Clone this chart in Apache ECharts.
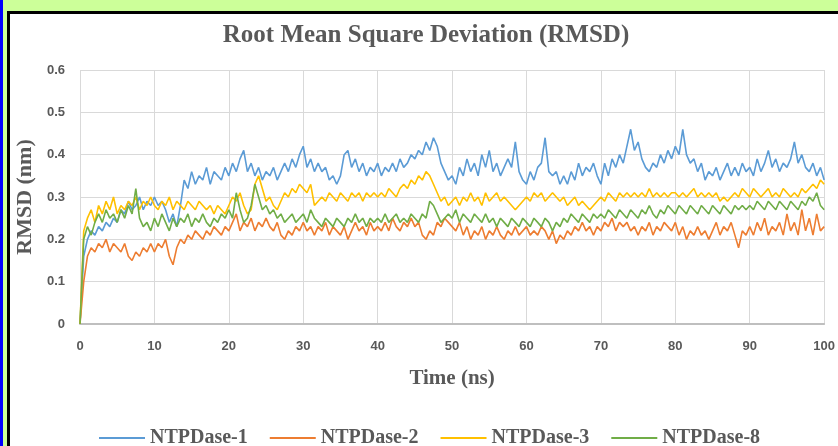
<!DOCTYPE html>
<html>
<head>
<meta charset="utf-8">
<script src="https://cdn.jsdelivr.net/npm/echarts@6/dist/echarts.min.js"></script>
<style>
  html, body { margin: 0; padding: 0; background: #fff; }
  #chart { width: 838px; height: 446px; }
</style>
</head>
<body>
<div id="chart"></div>
<script>
// RMSD (nm) sampled every 0.5 ns, 0 .. 100 ns (201 values each)
const ntpdase1 = [
  0, 0.16, 0.2, 0.22, 0.21, 0.23, 0.22, 0.24, 0.23, 0.25, 0.24, 0.27, 0.26, 0.29, 0.27, 0.28, 0.3, 0.27, 0.29, 0.28,
  0.3, 0.28, 0.29, 0.27, 0.24, 0.26, 0.23, 0.28, 0.34, 0.32, 0.36, 0.33, 0.35, 0.34, 0.37, 0.33, 0.36, 0.35, 0.34, 0.37,
  0.35, 0.38, 0.36, 0.39, 0.41, 0.36, 0.38, 0.35, 0.37, 0.34, 0.36, 0.35, 0.37, 0.34, 0.36, 0.38, 0.36, 0.39, 0.37, 0.4,
  0.42, 0.37, 0.39, 0.36, 0.38, 0.36, 0.37, 0.34, 0.35, 0.33, 0.35, 0.4, 0.41, 0.37, 0.39, 0.36, 0.38, 0.35, 0.37, 0.36,
  0.38, 0.35, 0.37, 0.36, 0.38, 0.36, 0.39, 0.37, 0.38, 0.4, 0.39, 0.41, 0.4, 0.43, 0.41, 0.44, 0.42, 0.38, 0.36, 0.34,
  0.35, 0.33, 0.37, 0.35, 0.39, 0.36, 0.38, 0.35, 0.4, 0.37, 0.41, 0.36, 0.38, 0.35, 0.37, 0.39, 0.37, 0.43, 0.36, 0.34,
  0.33, 0.36, 0.34, 0.37, 0.38, 0.44, 0.36, 0.35, 0.36, 0.33, 0.35, 0.33, 0.36, 0.34, 0.38, 0.35, 0.37, 0.36, 0.38, 0.35,
  0.33, 0.38, 0.35, 0.39, 0.37, 0.4, 0.38, 0.42, 0.46, 0.41, 0.43, 0.39, 0.37, 0.36, 0.38, 0.37, 0.4, 0.38, 0.41, 0.39,
  0.42, 0.4, 0.46, 0.4, 0.38, 0.39, 0.36, 0.38, 0.34, 0.36, 0.35, 0.37, 0.34, 0.36, 0.38, 0.35, 0.37, 0.35, 0.38, 0.36,
  0.37, 0.35, 0.39, 0.36, 0.38, 0.41, 0.37, 0.39, 0.36, 0.38, 0.37, 0.39, 0.43, 0.38, 0.4, 0.37, 0.36, 0.38, 0.35, 0.37,
  0.34
];
const ntpdase2 = [
  0, 0.1, 0.16, 0.18, 0.17, 0.19, 0.18, 0.2, 0.17, 0.19, 0.18, 0.17, 0.19, 0.16, 0.15, 0.17, 0.16, 0.18, 0.17, 0.19,
  0.17, 0.19, 0.18, 0.2, 0.16, 0.14, 0.18, 0.2, 0.19, 0.21, 0.2, 0.22, 0.21, 0.2, 0.22, 0.21, 0.23, 0.22, 0.21, 0.23,
  0.22, 0.24, 0.26, 0.22, 0.24, 0.23, 0.25, 0.22, 0.24, 0.23, 0.25, 0.23, 0.22, 0.24, 0.21, 0.2, 0.22, 0.21, 0.23, 0.22,
  0.24, 0.22, 0.23, 0.21, 0.23, 0.22, 0.24, 0.21, 0.23, 0.22, 0.21, 0.23, 0.2, 0.22, 0.24, 0.22, 0.23, 0.21, 0.24, 0.22,
  0.23, 0.22, 0.24, 0.22, 0.25, 0.23, 0.22, 0.24, 0.23, 0.25, 0.23, 0.24, 0.21, 0.2, 0.22, 0.21, 0.24, 0.23, 0.25, 0.24,
  0.23, 0.22, 0.24, 0.21, 0.23, 0.2, 0.22, 0.21, 0.23, 0.2, 0.22, 0.21, 0.23, 0.21, 0.2, 0.22, 0.21, 0.23, 0.21, 0.22,
  0.23, 0.21, 0.22, 0.21, 0.23, 0.22, 0.2, 0.22, 0.19, 0.21, 0.2, 0.22, 0.21, 0.23, 0.22, 0.24, 0.22, 0.23, 0.21, 0.23,
  0.22, 0.24, 0.23, 0.25, 0.22, 0.24, 0.23, 0.24, 0.22, 0.23, 0.21, 0.23, 0.22, 0.24, 0.21, 0.23, 0.22, 0.24, 0.23, 0.22,
  0.24, 0.21, 0.23, 0.2, 0.22, 0.21, 0.23, 0.21, 0.22, 0.2, 0.22, 0.24, 0.21, 0.23, 0.22, 0.24, 0.21, 0.18, 0.22, 0.21,
  0.23, 0.21, 0.24, 0.22, 0.25, 0.21, 0.23, 0.22, 0.24, 0.21, 0.26, 0.22, 0.24, 0.21, 0.27, 0.22, 0.25, 0.21, 0.26, 0.22,
  0.23
];
const ntpdase3 = [
  0, 0.22, 0.25, 0.27, 0.24, 0.28, 0.26, 0.29, 0.27, 0.3, 0.26, 0.28, 0.27, 0.29, 0.28, 0.3, 0.27, 0.29, 0.28, 0.3,
  0.28, 0.27, 0.29, 0.28, 0.3, 0.27, 0.29, 0.28, 0.27, 0.29, 0.28, 0.27, 0.29, 0.28, 0.27, 0.28, 0.26, 0.28, 0.27, 0.26,
  0.28, 0.3, 0.29, 0.31, 0.28, 0.26, 0.27, 0.33, 0.35, 0.32, 0.29, 0.3, 0.28, 0.27, 0.29, 0.31, 0.3, 0.32, 0.31, 0.33,
  0.32, 0.31, 0.33, 0.28, 0.29, 0.3, 0.29, 0.31, 0.3, 0.29, 0.31, 0.3, 0.29, 0.31, 0.3, 0.31, 0.29, 0.31, 0.3, 0.31,
  0.3, 0.31, 0.3, 0.32, 0.31, 0.3, 0.32, 0.33, 0.32, 0.34, 0.33, 0.35, 0.34, 0.36, 0.35, 0.33, 0.31, 0.29, 0.3, 0.28,
  0.29, 0.3, 0.28, 0.3, 0.29, 0.31, 0.29, 0.3, 0.28, 0.31, 0.29, 0.3, 0.31, 0.29, 0.3, 0.29, 0.28, 0.27, 0.28, 0.29,
  0.3, 0.29, 0.31, 0.3, 0.31, 0.29, 0.3, 0.31, 0.3, 0.29, 0.3, 0.28, 0.29, 0.3, 0.28, 0.29, 0.28, 0.27, 0.28, 0.29,
  0.3, 0.29, 0.31, 0.3, 0.29, 0.31, 0.3, 0.31, 0.3, 0.31, 0.3, 0.31, 0.3, 0.32, 0.3, 0.31, 0.3, 0.31, 0.3, 0.31,
  0.31, 0.3, 0.31, 0.3, 0.31, 0.32, 0.3, 0.31, 0.3, 0.31, 0.3, 0.31, 0.29, 0.3, 0.29, 0.3, 0.31, 0.3, 0.32, 0.31,
  0.3, 0.32, 0.31, 0.3, 0.31, 0.32, 0.3, 0.31, 0.3, 0.32, 0.31, 0.3, 0.31, 0.3, 0.32, 0.31, 0.32, 0.33, 0.32, 0.34,
  0.33
];
const ntpdase8 = [
  0, 0.2, 0.23, 0.21, 0.24, 0.26, 0.24, 0.27, 0.25, 0.26, 0.24, 0.27, 0.25, 0.28, 0.26, 0.32, 0.25, 0.23, 0.24, 0.22,
  0.25, 0.23, 0.26, 0.24, 0.22, 0.25, 0.23, 0.25, 0.24, 0.26, 0.23, 0.25, 0.24, 0.26, 0.24, 0.23, 0.25, 0.24, 0.26, 0.25,
  0.27, 0.25, 0.31, 0.27, 0.24, 0.25, 0.28, 0.33, 0.3, 0.27, 0.28, 0.26, 0.27, 0.25, 0.26, 0.24, 0.25, 0.26, 0.24, 0.25,
  0.26, 0.24, 0.27, 0.25, 0.24, 0.23, 0.25, 0.24, 0.23, 0.25, 0.24, 0.23, 0.25, 0.24, 0.26, 0.24, 0.25, 0.23, 0.25, 0.24,
  0.25, 0.24, 0.26, 0.24, 0.25, 0.26, 0.24, 0.25, 0.24, 0.26, 0.25, 0.24, 0.26, 0.25, 0.29, 0.28, 0.26, 0.24, 0.25, 0.26,
  0.25, 0.27, 0.24, 0.26, 0.25, 0.24, 0.26, 0.25, 0.24, 0.26, 0.24, 0.25, 0.23, 0.25, 0.24, 0.23, 0.25, 0.24, 0.23, 0.25,
  0.24, 0.23, 0.25, 0.24, 0.23, 0.25, 0.24, 0.22, 0.24, 0.23, 0.25, 0.24, 0.26, 0.25, 0.24, 0.26, 0.25, 0.24, 0.26, 0.25,
  0.26, 0.25, 0.27, 0.26, 0.25, 0.27, 0.26, 0.25, 0.27, 0.26, 0.25, 0.27, 0.26, 0.28, 0.26, 0.25, 0.27, 0.26, 0.28, 0.27,
  0.26, 0.28, 0.27, 0.26, 0.28, 0.27, 0.26, 0.28, 0.27, 0.26, 0.28, 0.27, 0.26, 0.28, 0.27, 0.26, 0.28, 0.27, 0.28, 0.27,
  0.28, 0.27, 0.29, 0.28, 0.27, 0.29, 0.28, 0.27, 0.29, 0.28, 0.27, 0.29, 0.28, 0.27, 0.29, 0.28, 0.3, 0.29, 0.31, 0.28,
  0.27
];
const seriesNames = ['NTPDase-1', 'NTPDase-2', 'NTPDase-3', 'NTPDase-8'];
const seriesColors = ['#5b9bd5', '#ed7d31', '#ffc000', '#70ad47'];
const timeStep = 0.5; // ns between samples

const grey = '#595959';
const serif = '"Liberation Serif", "Times New Roman", serif';
const sans = '"Liberation Sans", Arial, sans-serif';

function pairs(values) {
  return values.map((v, i) => [i * timeStep, v]);
}

const chart = echarts.init(document.getElementById('chart'));
chart.setOption({
  animation: false,
  backgroundColor: '#fff',
  graphic: [
    // page frame: green strip on top, blue/green strip left, black chart border
    { type: 'rect', z: -10, silent: true, shape: { x: 0, y: 0, width: 838, height: 11 }, style: { fill: '#ccff99' } },
    { type: 'rect', z: -10, silent: true, shape: { x: 0, y: 0, width: 7, height: 446 }, style: { fill: '#ccff99' } },
    { type: 'rect', z: -9, silent: true, shape: { x: 0, y: 0, width: 3, height: 446 }, style: { fill: '#0000ff' } },
    { type: 'rect', z: -9, silent: true, shape: { x: 7, y: 11, width: 831, height: 3 }, style: { fill: '#000' } },
    { type: 'rect', z: -9, silent: true, shape: { x: 7, y: 11, width: 3, height: 435 }, style: { fill: '#000' } }
  ],
  title: {
    text: 'Root Mean Square Deviation (RMSD)',
    left: 421,
    top: 18,
    textAlign: 'center',
    textStyle: { fontFamily: serif, fontWeight: 'bold', fontSize: 25, color: grey }
  },
  color: seriesColors,
  legend: {
    left: 94,
    top: 423,
    icon: 'rect',
    itemWidth: 46,
    itemHeight: 2,
    itemGap: 22,
    data: seriesNames,
    textStyle: { fontFamily: serif, fontWeight: 'bold', fontSize: 20, color: grey }
  },
  grid: { left: 80, right: 12, top: 70, height: 254 },
  xAxis: {
    type: 'value',
    min: 0,
    max: 100,
    interval: 10,
    name: 'Time (ns)',
    nameLocation: 'middle',
    nameGap: 44,
    nameTextStyle: { fontFamily: serif, fontWeight: 'bold', fontSize: 21, color: grey },
    axisLine: { show: true, lineStyle: { color: '#bfbfbf', width: 2 } },
    axisTick: { show: false },
    axisLabel: { margin: 16, fontFamily: sans, fontWeight: 'bold', fontSize: 13, color: grey },
    splitLine: { show: true, lineStyle: { color: '#d9d9d9', width: 1 } }
  },
  yAxis: {
    type: 'value',
    min: 0,
    max: 0.6,
    interval: 0.1,
    name: 'RMSD (nm)',
    nameLocation: 'middle',
    nameGap: 40,
    nameTextStyle: { fontFamily: serif, fontWeight: 'bold', fontSize: 22, color: grey },
    axisLine: { show: false },
    axisTick: { show: false },
    axisLabel: { margin: 15, fontFamily: sans, fontWeight: 'bold', fontSize: 13, color: grey },
    splitLine: { show: true, lineStyle: { color: '#d9d9d9', width: 1 } }
  },
  series: [ntpdase1, ntpdase2, ntpdase3, ntpdase8].map((vals, k) => ({
    name: seriesNames[k],
    type: 'line',
    data: pairs(vals),
    symbol: 'none',
    lineStyle: { width: 1.6, color: seriesColors[k] }
  }))
});
</script>
</body>
</html>
